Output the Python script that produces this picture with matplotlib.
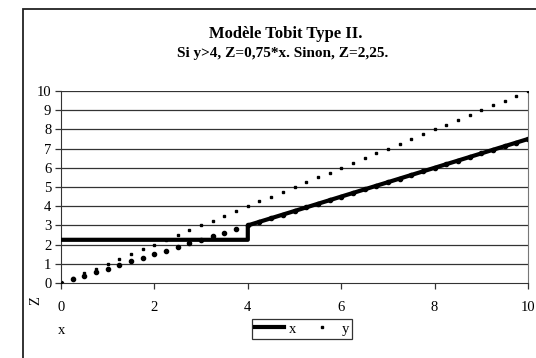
import matplotlib.pyplot as plt
from matplotlib.patches import Rectangle

# points, step 0.25
xs = [0, 0.25, 0.5, 0.75, 1, 1.25, 1.5, 1.75, 2, 2.25, 2.5, 2.75, 3, 3.25,
      3.5, 3.75, 4, 4.25, 4.5, 4.75, 5, 5.25, 5.5, 5.75, 6, 6.25, 6.5, 6.75,
      7, 7.25, 7.5, 7.75, 8, 8.25, 8.5, 8.75, 9, 9.25, 9.5, 9.75, 10]
y = [0, 0.25, 0.5, 0.75, 1, 1.25, 1.5, 1.75, 2, 2.25, 2.5, 2.75, 3, 3.25,
     3.5, 3.75, 4, 4.25, 4.5, 4.75, 5, 5.25, 5.5, 5.75, 6, 6.25, 6.5, 6.75,
     7, 7.25, 7.5, 7.75, 8, 8.25, 8.5, 8.75, 9, 9.25, 9.5, 9.75, 10]
w = [0, 0.19, 0.38, 0.56, 0.75, 0.94, 1.13, 1.31, 1.5, 1.69, 1.88, 2.06,
     2.25, 2.44, 2.63, 2.81, 3.0, 3.19, 3.38, 3.56, 3.75, 3.94, 4.13, 4.31,
     4.5, 4.69, 4.88, 5.06, 5.25, 5.44, 5.63, 5.81, 6.0, 6.19, 6.38, 6.56,
     6.75, 6.94, 7.13, 7.31, 7.5]
# Z line (series "x")
zx = [0, 4, 4, 10]
z = [2.25, 2.25, 3.0, 7.5]

plt.rcParams['font.family'] = ['Liberation Serif', 'DejaVu Serif']

fig = plt.figure(figsize=(5.36, 3.58), dpi=100)
fig.patches.append(Rectangle((23/536, -0.2), 1.2, 1 - 9/358 + 0.2,
                             transform=fig.transFigure, fill=False,
                             edgecolor='#222222', linewidth=1.3))

ax = fig.add_axes([61/536, 75/358, 467/536, 192/358])
for k in range(1, 11):
    ax.axhline(k, color='#333333', lw=0.9, zorder=1)

ax.plot(xs, w, 'o', color='black', ms=3.0, zorder=2)
ax.plot(xs, y, 's', color='black', ms=1.7, label='y', zorder=3)
ax.plot(zx, z, '-', color='black', lw=3.0, label='x', zorder=4)

ax.set_xlim(0, 10)
ax.set_ylim(0, 10)
ax.set_xticks([0, 2, 4, 6, 8, 10])
ax.set_yticks(range(0, 11))
ax.tick_params(axis='both', direction='out', length=4, width=0.9,
               labelsize=10.5, color='#333333')
ax.tick_params(axis='x', pad=9)
ax.tick_params(axis='y', pad=3)
ax.spines['top'].set_visible(False)
ax.spines['right'].set_color('#777777')
ax.spines['left'].set_color('#333333')
ax.spines['bottom'].set_color('#333333')

fig.text(286/536, 1 - 34/358, 'Modèle Tobit Type II.', ha='center',
         va='center', fontsize=12, fontweight='bold')
fig.text(283/536, 1 - 54/358, 'Si y>4, Z=0,75*x. Sinon, Z=2,25.',
         ha='center', va='center', fontsize=11, fontweight='bold')
fig.text(36/536, 1 - 301/358, 'Z', rotation=90, ha='center', va='center',
         fontsize=10.5)
fig.text(62/536, 1 - 331/358, 'x', ha='center', va='center', fontsize=10.5)

h, l = ax.get_legend_handles_labels()
leg = fig.legend([h[1], h[0]], [l[1], l[0]], ncol=2,
                 loc='center', bbox_to_anchor=(302/536, 1 - 329/358),
                 frameon=True, fancybox=False, fontsize=10.5,
                 handlelength=2.0, handletextpad=0.3, columnspacing=0.8,
                 borderaxespad=0, borderpad=0.25)
leg.get_frame().set_edgecolor('black')
leg.get_frame().set_linewidth(0.9)

fig.savefig('out.png', dpi=100)
